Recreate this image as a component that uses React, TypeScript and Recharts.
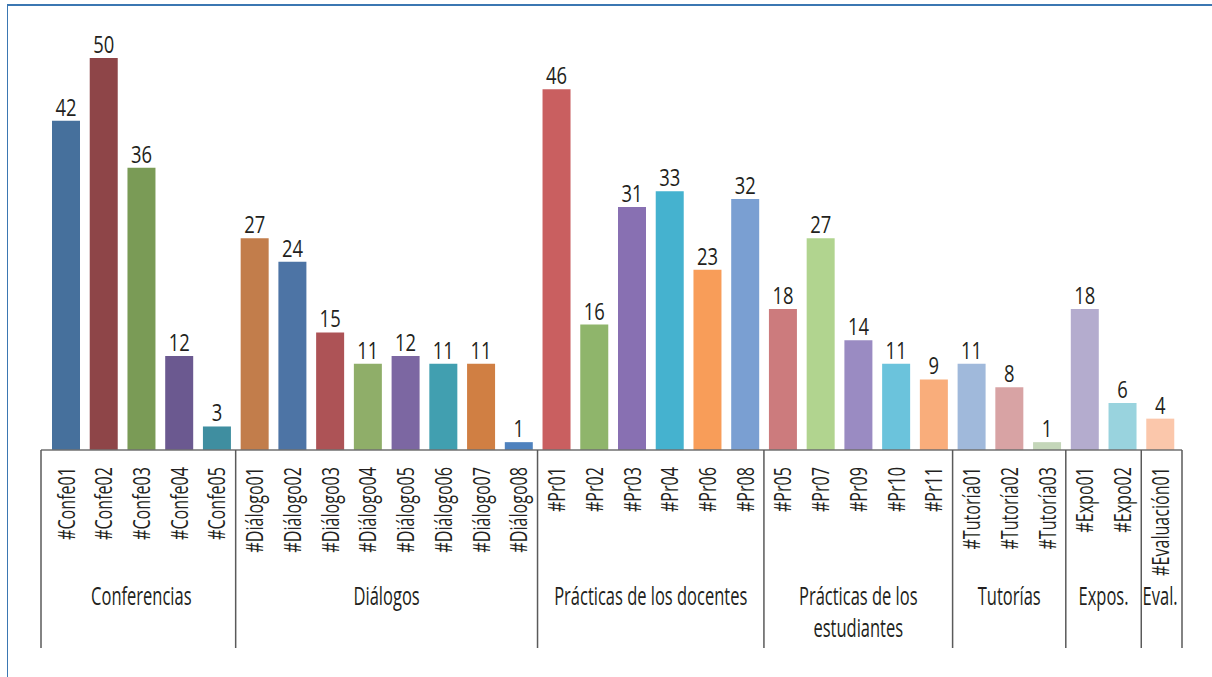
import React from 'react';
import { BarChart, Bar, XAxis, YAxis, Cell, LabelList } from 'recharts';

const categories = [
  '#Confe01', '#Confe02', '#Confe03', '#Confe04', '#Confe05',
  '#Diálogo01', '#Diálogo02', '#Diálogo03', '#Diálogo04', '#Diálogo05', '#Diálogo06', '#Diálogo07', '#Diálogo08',
  '#Pr01', '#Pr02', '#Pr03', '#Pr04', '#Pr06', '#Pr08',
  '#Pr05', '#Pr07', '#Pr09', '#Pr10', '#Pr11',
  '#Tutoría01', '#Tutoría02', '#Tutoría03',
  '#Expo01', '#Expo02',
  '#Evaluación01',
];

const values = [
  42, 50, 36, 12, 3,
  27, 24, 15, 11, 12, 11, 11, 1,
  46, 16, 31, 33, 23, 32,
  18, 27, 14, 11, 9,
  11, 8, 1,
  18, 6,
  4,
];

const colors = [
  '#46709c', '#8e4548', '#7a9b56', '#6b5990', '#3f8ea0',
  '#c27d4b', '#4d74a5', '#ad5356', '#8fae69', '#7c67a2', '#419fb0', '#d07f43', '#4f82be',
  '#c95f60', '#8fb56b', '#8870b2', '#45b2cf', '#f89d59', '#7a9fd2',
  '#cc7b7d', '#b1d48f', '#9a8bc2', '#6bc3dc', '#f9ad7b',
  '#a0b9db', '#d8a3a4', '#c4d6b9',
  '#b4acce', '#99d3de',
  '#fbc7ab',
];

const groupNames: string[][] = [
  ['Conferencias'],
  ['Diálogos'],
  ['Prácticas de los docentes'],
  ['Prácticas de los', 'estudiantes'],
  ['Tutorías'],
  ['Expos.'],
  ['Eval.'],
];
const groupSizes = [5, 8, 6, 5, 3, 2, 1];

const data = categories.map((name, i) => ({ name, value: values[i], color: colors[i] }));

const groupStartMap: Record<number, number> = {};
{
  let s = 0;
  groupSizes.forEach((n, g) => {
    groupStartMap[s] = g;
    s += n;
  });
}

const FONT = "'Open Sans', 'Noto Sans', sans-serif";
const TEXT = '#231f20';
const LINE = '#5a5a5a';

const WIDTH = 1212;
const HEIGHT = 677;
const MARGIN = { top: 58, right: 30, left: 41, bottom: 0 };
const PAD_L = 6;
const PAD_R = 3;
const BAND = (WIDTH - MARGIN.left - MARGIN.right - PAD_L - PAD_R) / categories.length;

function CondText(props: {
  x: number;
  y: number;
  rotate?: number;
  sx: number;
  size: number;
  anchor: 'start' | 'middle' | 'end';
  baseline?: string;
  children: React.ReactNode;
}) {
  const { x, y, rotate = 0, sx, size, anchor, baseline, children } = props;
  return (
    <g transform={`translate(${x},${y}) rotate(${rotate}) scale(${sx},1)`}>
      <text
        x={0}
        y={0}
        textAnchor={anchor}
        dominantBaseline={baseline as any}
        fontFamily={FONT}
        fontSize={size}
        fill={TEXT}
      >
        {children}
      </text>
    </g>
  );
}

function Tick(props: any) {
  const { x, y, payload } = props;
  const idx: number = payload.index ?? props.index;
  const half: number = payload.offset ? payload.offset : BAND / 2;
  const g = groupStartMap[idx];
  const isFirst = idx === 0;
  const isLast = idx === categories.length - 1;
  const leftX = x - half - (isFirst ? PAD_L : 0);
  return (
    <g>
      <CondText x={x} y={y + 17} rotate={-90} sx={0.7} size={23} anchor="end" baseline="central">
        {payload.value}
      </CondText>
      {g !== undefined && (
        <g>
          <line x1={leftX} x2={leftX} y1={y} y2={y + 198} stroke={LINE} strokeWidth={1.5} />
          {groupNames[g].map((line, li) => (
            <CondText
              key={li}
              x={x - half + groupSizes[g] * half}
              y={y + 155 + li * 32}
              sx={0.66}
              size={25}
              anchor="middle"
            >
              {line}
            </CondText>
          ))}
        </g>
      )}
      {isLast && (
        <line
          x1={x + half + PAD_R}
          x2={x + half + PAD_R}
          y1={y}
          y2={y + 198}
          stroke={LINE}
          strokeWidth={1.5}
        />
      )}
    </g>
  );
}

function ValueLabel(props: any) {
  const { x, y, width, value } = props;
  return (
    <CondText x={x + width / 2} y={y - 5} sx={0.8} size={23} anchor="middle">
      {value}
    </CondText>
  );
}

export default function App() {
  return (
    <div style={{ position: 'absolute', left: 0, top: 0, width: WIDTH, height: HEIGHT, background: '#fff' }}>
      <div
        style={{
          position: 'absolute',
          left: 7,
          top: 4,
          width: WIDTH - 7,
          height: HEIGHT - 4,
          borderTop: '2px solid #3b77b2',
          borderLeft: '1px solid #3b77b2',
          boxSizing: 'border-box',
        }}
      />
      <div style={{ position: 'absolute', left: 0, top: 0 }}>
        <BarChart width={WIDTH} height={HEIGHT} data={data} margin={MARGIN}>
          <XAxis
            dataKey="name"
            type="category"
            interval={0}
            height={227}
            padding={{ left: PAD_L, right: PAD_R }}
            tick={<Tick />}
            tickLine={false}
            tickSize={0}
            tickMargin={0}
            axisLine={{ stroke: '#707070', strokeWidth: 1.5 }}
          />
          <YAxis hide domain={[0, 50]} />
          <Bar dataKey="value" barSize={28} isAnimationActive={false}>
            {data.map((d, i) => (
              <Cell key={i} fill={d.color} />
            ))}
            <LabelList dataKey="value" content={<ValueLabel />} />
          </Bar>
        </BarChart>
      </div>
    </div>
  );
}
